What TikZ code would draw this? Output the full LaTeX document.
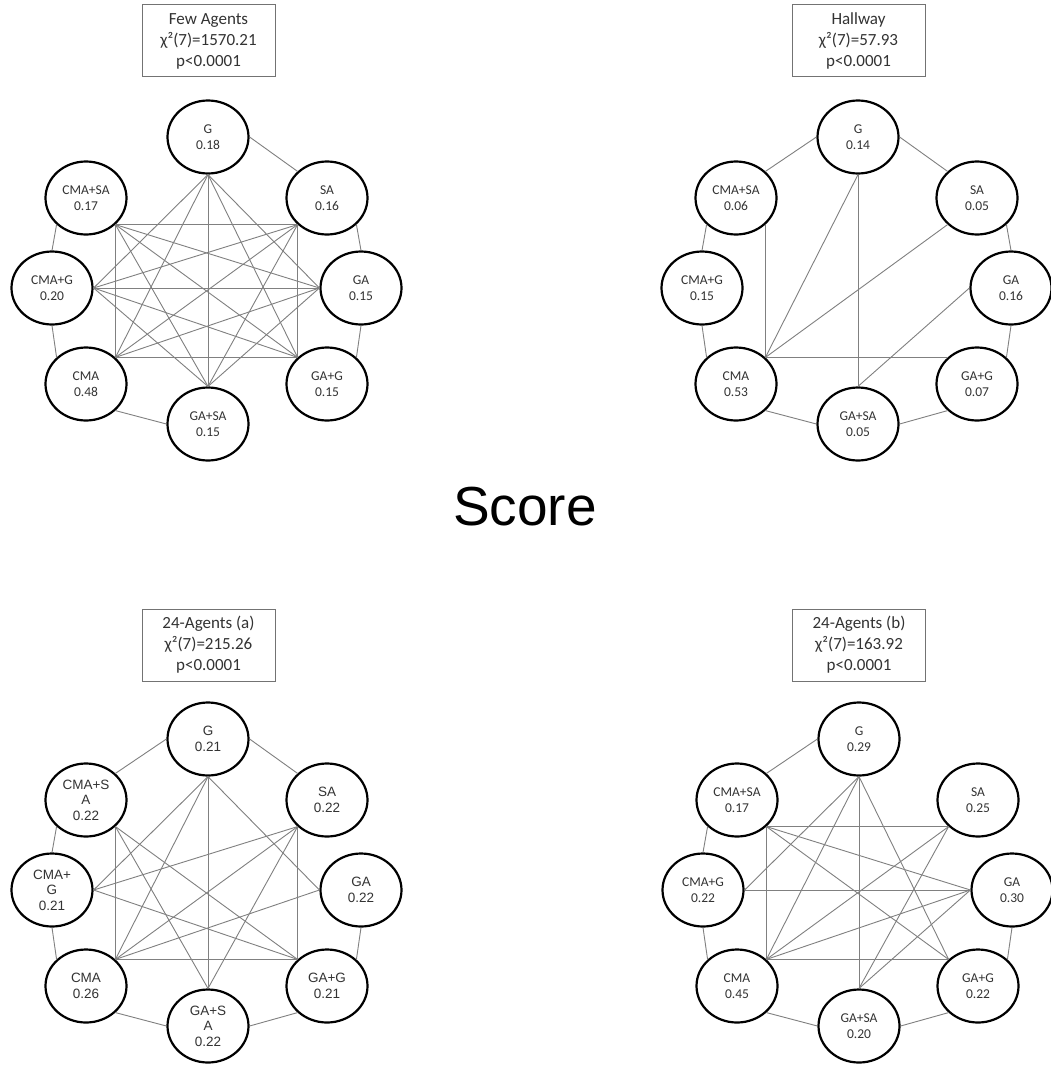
\documentclass[tikz,border=0pt]{standalone}
\usepackage{fontspec}
\newfontfamily\carlito{Carlito}
\newfontfamily\arialf{Liberation Sans}
\usetikzlibrary{shapes.geometric}
\tikzset{
  ellfont/.style={font=\carlito\fontsize{13.5}{15.5}\selectfont},
  ell/.style={ellipse, draw=black, line width=2.2pt, minimum width=81pt, minimum height=73pt,
    inner sep=0pt, align=center, text=black!80, ellfont},
  conn/.style={draw=black!50, line width=0.9pt},
  hdr/.style={draw=black!55, line width=1pt, minimum width=133pt, minimum height=72pt,
    inner sep=0pt, align=center, text=black!80, font=\carlito\fontsize{17}{21}\selectfont},
}
% inner connection point of each node
\expandafter\def\csname ancG\endcsname{south}
\expandafter\def\csname ancSA\endcsname{south west}
\expandafter\def\csname ancGA\endcsname{west}
\expandafter\def\csname ancGAG\endcsname{north west}
\expandafter\def\csname ancGASA\endcsname{north}
\expandafter\def\csname ancCMA\endcsname{north east}
\expandafter\def\csname ancCMAG\endcsname{east}
\expandafter\def\csname ancCMASA\endcsname{south east}
\newcommand\pnodes[9]{%
  \node[ell] (#1G) at (0,0) {#2};
  \node[ell] (#1SA) at (119,61) {#3};
  \node[ell] (#1GA) at (153,151) {#4};
  \node[ell] (#1GAG) at (119,247) {#5};
  \node[ell] (#1GASA) at (0,287) {#6};
  \node[ell] (#1CMA) at (-122,247) {#7};
  \node[ell] (#1CMAG) at (-156,151) {#8};
  \node[ell] (#1CMASA) at (-122,61) {#9};
}
\newcommand\ie[3]{\edef\iecmd{\noexpand\draw[conn] (#1#2.\csname anc#2\endcsname) -- (#1#3.\csname anc#3\endcsname);}\iecmd}
\newcommand\rGSA[1]{\draw[conn] (#1G.east) -- (#1SA.north west);}
\newcommand\rSAGA[1]{\draw[conn] (#1SA.south east) -- (#1GA.north);}
\newcommand\rGAGAG[1]{\draw[conn] (#1GA.south) -- (#1GAG.north east);}
\newcommand\rGAGGASA[1]{\draw[conn] (#1GAG.south west) -- (#1GASA.east);}
\newcommand\rGASACMA[1]{\draw[conn] (#1GASA.west) -- (#1CMA.south east);}
\newcommand\rCMACMAG[1]{\draw[conn] (#1CMA.north west) -- (#1CMAG.south);}
\newcommand\rCMAGCMASA[1]{\draw[conn] (#1CMAG.north) -- (#1CMASA.south west);}
\newcommand\rCMASAG[1]{\draw[conn] (#1CMASA.north east) -- (#1G.west);}

\begin{document}
\begin{tikzpicture}[x=1pt,y=-1pt]
\fill[white] (0,0) rectangle (1051,1070);
\useasboundingbox (0,0) rectangle (1051,1070);

% headers
\node[hdr] (aBox) at (208.5,41) {Few Agents\\χ²(7)=1570.21\\p<0.0001};
\node[hdr] (bBox) at (858.5,41) {Hallway\\χ²(7)=57.93\\p<0.0001};
\node[hdr] (cBox) at (208.5,645) {24-Agents (a)\\χ²(7)=215.26\\p<0.0001};
\node[hdr] (dBox) at (859,645) {24-Agents (b)\\χ²(7)=163.92\\p<0.0001};

\node[font=\arialf\fontsize{55}{60}\selectfont, text=black] (score) at (525,507) {Score};

% Panel 1: Few Agents
\begin{scope}[shift={(208,137)}]
\pnodes{a}{G\\0.18}{SA\\0.16}{GA\\0.15}{GA+G\\0.15}{GA+SA\\0.15}{CMA\\0.48}{CMA+G\\0.20}{CMA+SA\\0.17}
\rGSA{a}\rSAGA{a}\rGAGAG{a}\rGASACMA{a}\rCMACMAG{a}\rCMAGCMASA{a}
\ie{a}{G}{GA}\ie{a}{G}{GAG}\ie{a}{G}{GASA}\ie{a}{G}{CMA}\ie{a}{G}{CMAG}
\ie{a}{SA}{GAG}\ie{a}{SA}{GASA}\ie{a}{SA}{CMA}\ie{a}{SA}{CMAG}\ie{a}{SA}{CMASA}
\ie{a}{GA}{GASA}\ie{a}{GA}{CMA}\ie{a}{GA}{CMAG}\ie{a}{GA}{CMASA}
\ie{a}{GAG}{CMA}\ie{a}{GAG}{CMAG}\ie{a}{GAG}{CMASA}
\ie{a}{GASA}{CMAG}\ie{a}{GASA}{CMASA}
\ie{a}{CMA}{CMASA}
\end{scope}

% Panel 2: Hallway
\begin{scope}[shift={(858,137)}]
\pnodes{b}{G\\0.14}{SA\\0.05}{GA\\0.16}{GA+G\\0.07}{GA+SA\\0.05}{CMA\\0.53}{CMA+G\\0.15}{CMA+SA\\0.06}
\rGSA{b}\rSAGA{b}\rGAGAG{b}\rGAGGASA{b}\rGASACMA{b}\rCMACMAG{b}\rCMAGCMASA{b}\rCMASAG{b}
\ie{b}{CMASA}{CMA}\ie{b}{CMA}{G}\ie{b}{CMA}{SA}\ie{b}{CMA}{GAG}
\ie{b}{G}{GASA}\ie{b}{GA}{GASA}
\end{scope}

% Panel 3: 24-Agents (a)
\begin{scope}[shift={(208,739)}, ellfont/.style={font=\arialf\fontsize{13.5}{15.5}\selectfont}]
\pnodes{c}{G\\0.21}{SA\\0.22}{GA\\0.22}{GA+G\\0.21}{GA+S\\A\\0.22}{CMA\\0.26}{CMA+\\G\\0.21}{CMA+S\\A\\0.22}
\rCMASAG{c}\rGSA{c}\rCMAGCMASA{c}\rCMACMAG{c}\rGASACMA{c}\rGAGGASA{c}\rGAGAG{c}
\ie{c}{G}{CMAG}\ie{c}{G}{CMA}\ie{c}{G}{GASA}\ie{c}{G}{GA}
\ie{c}{CMASA}{CMA}\ie{c}{CMASA}{GASA}\ie{c}{CMASA}{GAG}
\ie{c}{SA}{CMAG}\ie{c}{SA}{CMA}\ie{c}{SA}{GASA}\ie{c}{SA}{GAG}
\ie{c}{GA}{CMA}\ie{c}{CMA}{GAG}\ie{c}{CMAG}{GAG}
\end{scope}

% Panel 4: 24-Agents (b)
\begin{scope}[shift={(859,739)}]
\pnodes{d}{G\\0.29}{SA\\0.25}{GA\\0.30}{GA+G\\0.22}{GA+SA\\0.20}{CMA\\0.45}{CMA+G\\0.22}{CMA+SA\\0.17}
\rCMASAG{d}\rCMAGCMASA{d}\rCMACMAG{d}\rGASACMA{d}\rGAGGASA{d}\rGAGAG{d}
\ie{d}{CMASA}{SA}\ie{d}{CMASA}{CMA}\ie{d}{CMA}{GAG}\ie{d}{CMAG}{GA}
\ie{d}{G}{GASA}\ie{d}{G}{CMAG}\ie{d}{G}{CMA}\ie{d}{G}{GAG}
\ie{d}{CMASA}{GA}\ie{d}{CMASA}{GAG}
\ie{d}{SA}{CMA}\ie{d}{SA}{GASA}
\ie{d}{GA}{CMA}\ie{d}{GA}{GASA}
\end{scope}
\end{tikzpicture}
\end{document}
